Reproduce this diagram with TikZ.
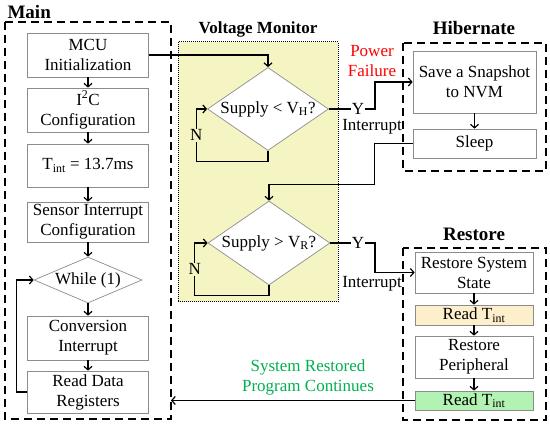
\documentclass[tikz,border=0pt]{standalone}
\usepackage{fontspec}
\setmainfont{Liberation Serif}
\usetikzlibrary{arrows.meta,shapes.geometric,calc}
\definecolor{VMFill}{RGB}{245,245,195}
\definecolor{BoxLine}{RGB}{140,140,140}
\definecolor{ReadOne}{RGB}{253,239,204}
\definecolor{ReadTwo}{RGB}{178,242,178}
\definecolor{OkText}{RGB}{0,176,80}

\begin{document}
\begin{tikzpicture}[x=1pt,y=-1pt,
  txt/.style={font=\fontsize{17}{20}\selectfont},
  title/.style={font=\fontsize{19}{22}\selectfont\bfseries},
  stepbox/.style={txt,draw=BoxLine,line width=0.7pt,fill=white,align=center,inner sep=1pt,minimum width=121pt},
  decide/.style={txt,diamond,draw=BoxLine,line width=0.7pt,fill=white,inner sep=0pt},
  group/.style={line width=1.5pt,dash pattern=on 8pt off 5pt},
  flow/.style={line width=1.2pt,-{Straight Barb[length=3.5pt,width=8pt]}},
  link/.style={line width=1.2pt}]
  \useasboundingbox (0,0) rectangle (550,427);

  % group frames
  \draw[group] (5,22) rectangle (171,419);
  \draw[fill=VMFill,line width=1pt,dash pattern=on 1pt off 1pt] (178,42) rectangle (338,302);
  \draw[group] (403,43) rectangle (546,171);
  \draw[group] (403,248) rectangle (546,420);

  % titles
  \node[title,anchor=west] (tmain) at (4,12) {Main};
  \node[title,font=\fontsize{17}{20}\selectfont\bfseries] (tvm) at (258,29) {Voltage Monitor};
  \node[title] (thib) at (474,28) {Hibernate};
  \node[title] (tres) at (474,234) {Restore};

  % main loop
  \node[stepbox,minimum height=44pt] (mcu) at (88,55) {MCU\\Initialization};
  \node[stepbox,minimum height=44pt] (i2c) at (88,110) {I\textsuperscript{2}C\\Configuration};
  \node[stepbox,minimum height=43pt] (tint) at (88,165.5) {T\textsubscript{int} = 13.7ms};
  \node[stepbox,minimum height=40pt] (sens) at (88,222) {Sensor Interrupt\\Configuration};
  \node[decide,minimum width=108pt,minimum height=46pt,aspect=2.35] (loop) at (88,280) {While (1)};
  \node[stepbox,minimum height=44pt] (conv) at (88,338) {Conversion\\Interrupt};
  \node[stepbox,minimum height=42pt] (rdr) at (88,392) {Read Data\\Registers};
  \draw[flow] (mcu) -- (i2c);
  \draw[flow] (i2c) -- (tint);
  \draw[flow] (tint) -- (sens);
  \draw[flow] (sens) -- (loop);
  \draw[flow] (loop) -- (conv);
  \draw[flow] (conv) -- (rdr);
  \draw[flow] (rdr.west) -- ++(-11,0) |- (loop.west);

  % voltage monitor
  \node[decide,minimum width=121pt,minimum height=83pt,aspect=1.46] (hchk) at (268,109) {Supply < V\textsubscript{H}?};
  \node[decide,minimum width=122pt,minimum height=84pt,aspect=1.45] (rchk) at (269,243) {Supply > V\textsubscript{R}?};
  \draw[flow] (mcu.east) -| (hchk.north);
  \draw[flow] (hchk.south) -- ++(0,11) -| ([xshift=-11pt]hchk.west)
    node[pos=0.75,txt,fill=VMFill,inner sep=1pt] {N} -- (hchk.west);
  \draw[flow] (rchk.south) -- ++(0,10) -| ([xshift=-13pt]rchk.west)
    node[pos=0.75,txt,fill=VMFill,inner sep=1pt] {N} -- (rchk.west);
  \node[txt,inner sep=0.5pt] (yh) at (358,109) {Y};
  \node[txt,inner sep=0.5pt] (yr) at (358,243) {Y};
  \node[txt,inner sep=0pt] (ih) at (372,127) {Interrupt};
  \node[txt,inner sep=0pt] (ir) at (372,284) {Interrupt};
  \node[txt,text=red,align=center] (pf) at (372,61) {Power\\Failure};

  % hibernate
  \node[stepbox,minimum width=123pt,minimum height=62pt] (snap) at (474.5,82) {Save a Snapshot\\to NVM};
  \node[stepbox,minimum width=123pt,minimum height=29pt] (slp) at (474.5,143.5) {Sleep};
  \draw[flow] (snap) -- (slp);
  \draw[link] (hchk.east) -- (yh);
  \draw[flow] (yh) -- ++(17,0) |- (snap.west);
  \draw[flow] (slp.west) -- ++(-38,0) -- ++(0,41) -| (rchk.north);

  % restore
  \node[stepbox,minimum width=118pt,minimum height=41pt] (rss) at (474,272.5) {Restore System\\State};
  \node[stepbox,minimum width=118pt,minimum height=20pt,fill=ReadOne,inner sep=0pt] (rt1) at (474,315) {Read T\textsubscript{int}};
  \node[stepbox,minimum width=118pt,minimum height=42pt] (rp) at (474,357) {Restore\\Peripheral};
  \node[stepbox,minimum width=118pt,minimum height=19pt,fill=ReadTwo,inner sep=0pt] (rt2) at (474,400.5) {Read T\textsubscript{int}};
  \draw[flow] (rss) -- (rt1);
  \draw[flow] (rt1) -- (rp);
  \draw[flow] (rp) -- (rt2);
  \draw[link] (rchk.east) -- (yr);
  \draw[flow] (yr) -- ++(17,0) |- (rss.west);

  % back to main
  \coordinate (back) at (171,400.5);
  \draw[flow] (rt2.west) -- (back);
  \node[txt,text=OkText,align=center] (ok) at (308,377) {System Restored\\Program Continues};
\end{tikzpicture}
\end{document}
